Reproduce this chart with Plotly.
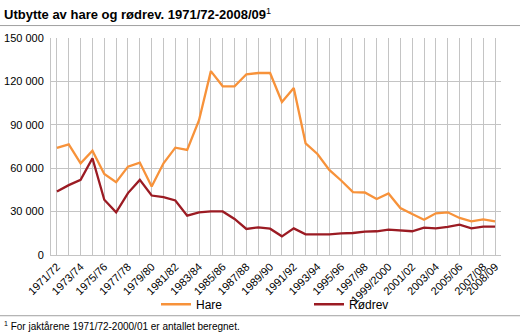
import plotly.graph_objects as go

seasons = ["1971/72","1972/73","1973/74","1974/75","1975/76","1976/77","1977/78","1978/79",
           "1979/80","1980/81","1981/82","1982/83","1983/84","1984/85","1985/86","1986/87",
           "1987/88","1988/89","1989/90","1990/91","1991/92","1992/93","1993/94","1994/95",
           "1995/96","1996/97","1997/98","1998/99","1999/2000","2000/01","2001/02","2002/03",
           "2003/04","2004/05","2005/06","2006/07","2007/08","2008/09"]
hare = [74000, 76500, 63400, 72100, 56000, 50300, 61100, 63900,
        47300, 63400, 74200, 72600, 93200, 127100, 116600, 116600,
        124900, 125800, 125800, 105800, 115500, 77200, 69800, 58800,
        51500, 43500, 43200, 38700, 42500, 32500, 28300, 24400,
        28800, 29500, 25600, 23300, 24600, 23300]
rodrev = [43900, 48300, 51900, 66900, 38200, 29500, 42800, 51900,
          41100, 40000, 37700, 27200, 29500, 30100, 30100, 24900,
          18000, 19100, 18200, 12900, 18400, 14300, 14300, 14300,
          15000, 15200, 16200, 16400, 17500, 16900, 16400, 18900,
          18400, 19400, 21000, 18400, 19600, 19600]
shown_labels = ["1971/72","1973/74","1975/76","1977/78","1979/80","1981/82","1983/84",
                "1985/86","1987/88","1989/90","1991/92","1993/94","1995/96","1997/98",
                "1999/2000","2001/02","2003/04","2005/06","2007/08","2008/09"]
y_ticks = [0, 30000, 60000, 90000, 120000, 150000]
y_tick_text = ["0", "30 000", "60 000", "90 000", "120 000", "150 000"]

title_text = "<b>Utbytte av hare og rødrev. 1971/72-2008/09</b><sup>1</sup>"
footnote = "<sup>1</sup> For jaktårene 1971/72-2000/01 er antallet beregnet."

FONT = "Liberation Sans, Arial, sans-serif"
ORANGE = "#F7923A"
DARKRED = "#9B1B23"
GRID = "#C4C4C4"

fig = go.Figure()
fig.add_trace(go.Scatter(x=seasons, y=hare, mode="lines", name="Hare",
                         line=dict(color=ORANGE, width=2.3)))
fig.add_trace(go.Scatter(x=seasons, y=rodrev, mode="lines", name="Rødrev",
                         line=dict(color=DARKRED, width=2.3)))

L, R, T, B = 51, 19, 37.5, 79.5
W, H = 520, 335
pw, ph = W - L - R, H - T - B

def px_x(px):
    return (px - L) / pw

def px_y(py):
    return (H - B - py) / ph

fig.update_layout(
    width=W, height=H,
    margin=dict(l=L, r=R, t=T, b=B, autoexpand=False),
    paper_bgcolor="white", plot_bgcolor="white",
    font=dict(family=FONT, size=11, color="#000000"),
    showlegend=True,
    legend=dict(orientation="h", x=px_x(156), xanchor="left", y=px_y(305), yanchor="middle",
                font=dict(size=12), itemwidth=30, entrywidth=108, entrywidthmode="pixels",
                tracegroupgap=0, bgcolor="rgba(0,0,0,0)"),
    xaxis=dict(type="category", categoryorder="array", categoryarray=seasons,
               range=[-0.5, len(seasons) - 0.5],
               tickmode="array", tickvals=seasons,
               ticktext=[s if s in shown_labels else "" for s in seasons],
               tickangle=-45, showgrid=True, gridcolor=GRID, gridwidth=1,
               showline=True, linecolor=GRID, ticks="", tickfont=dict(size=11),
               zeroline=False, fixedrange=True, automargin=False),
    yaxis=dict(range=[0, 150000], tickmode="array", tickvals=y_ticks, ticktext=y_tick_text,
               showgrid=True, gridcolor=GRID, gridwidth=1, showline=True, linecolor=GRID,
               ticks="", ticklabelstandoff=4, zeroline=False, tickfont=dict(size=11),
               fixedrange=True, automargin=False),
    annotations=[
        dict(text=title_text, xref="paper", yref="paper", x=px_x(2), y=px_y(13),
             xanchor="left", yanchor="middle", showarrow=False,
             font=dict(size=13, family=FONT, color="#000000")),
        dict(text=footnote, xref="paper", yref="paper", x=px_x(2), y=px_y(327),
             xanchor="left", yanchor="middle", showarrow=False,
             font=dict(size=10, family=FONT, color="#000000")),
    ],
    shapes=[
        dict(type="line", xref="paper", yref="paper", x0=px_x(0), x1=px_x(520),
             y0=px_y(25), y1=px_y(25), line=dict(color="#A0A0A0", width=1)),
        dict(type="line", xref="paper", yref="paper", x0=px_x(0), x1=px_x(520),
             y0=px_y(316.5), y1=px_y(316.5), line=dict(color="#A0A0A0", width=1)),
    ],
)

fig.write_html("out.html")
